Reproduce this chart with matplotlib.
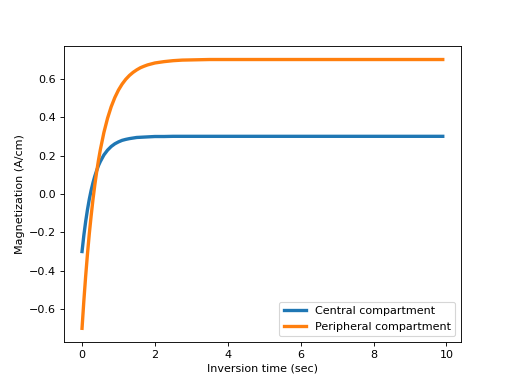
import matplotlib
matplotlib.use("Agg")
import matplotlib.pyplot as plt

# values
times = [0.0, 0.05, 0.1, 0.15, 0.2, 0.25, 0.3, 0.35, 0.4, 0.45, 0.5, 0.6, 0.7, 0.8,
         0.9, 1.0, 1.1, 1.2, 1.3, 1.4, 1.5, 1.6, 1.7, 1.8, 2.0, 2.25, 2.5, 2.75,
         3.0, 3.5, 4.0, 5.0, 6.0, 7.0, 8.0, 9.0, 9.9]
central = [-0.300, -0.215, -0.143, -0.081, -0.027, 0.019, 0.058, 0.092, 0.121, 0.147,
           0.168, 0.203, 0.228, 0.247, 0.261, 0.271, 0.279, 0.284, 0.288, 0.291,
           0.294, 0.295, 0.296, 0.297, 0.299, 0.299, 0.300, 0.300,
           0.300, 0.300, 0.300, 0.300, 0.300, 0.300, 0.300, 0.300, 0.300]
peripheral = [-0.700, -0.556, -0.427, -0.311, -0.206, -0.114, -0.029, 0.046, 0.113, 0.174,
              0.228, 0.320, 0.394, 0.454, 0.502, 0.541, 0.572, 0.597, 0.617, 0.633,
              0.646, 0.657, 0.665, 0.672, 0.682, 0.689, 0.694, 0.697,
              0.698, 0.700, 0.700, 0.700, 0.700, 0.700, 0.700, 0.700, 0.700]

fig = plt.figure(figsize=(6.4, 4.8), dpi=80)
plt.plot(times, central, linewidth=3, label='Central compartment')
plt.plot(times, peripheral, linewidth=3, label='Peripheral compartment')
plt.xlabel('Inversion time (sec)')
plt.ylabel('Magnetization (A/cm)')
plt.legend(loc='lower right')
plt.savefig('out.png', dpi=80)
